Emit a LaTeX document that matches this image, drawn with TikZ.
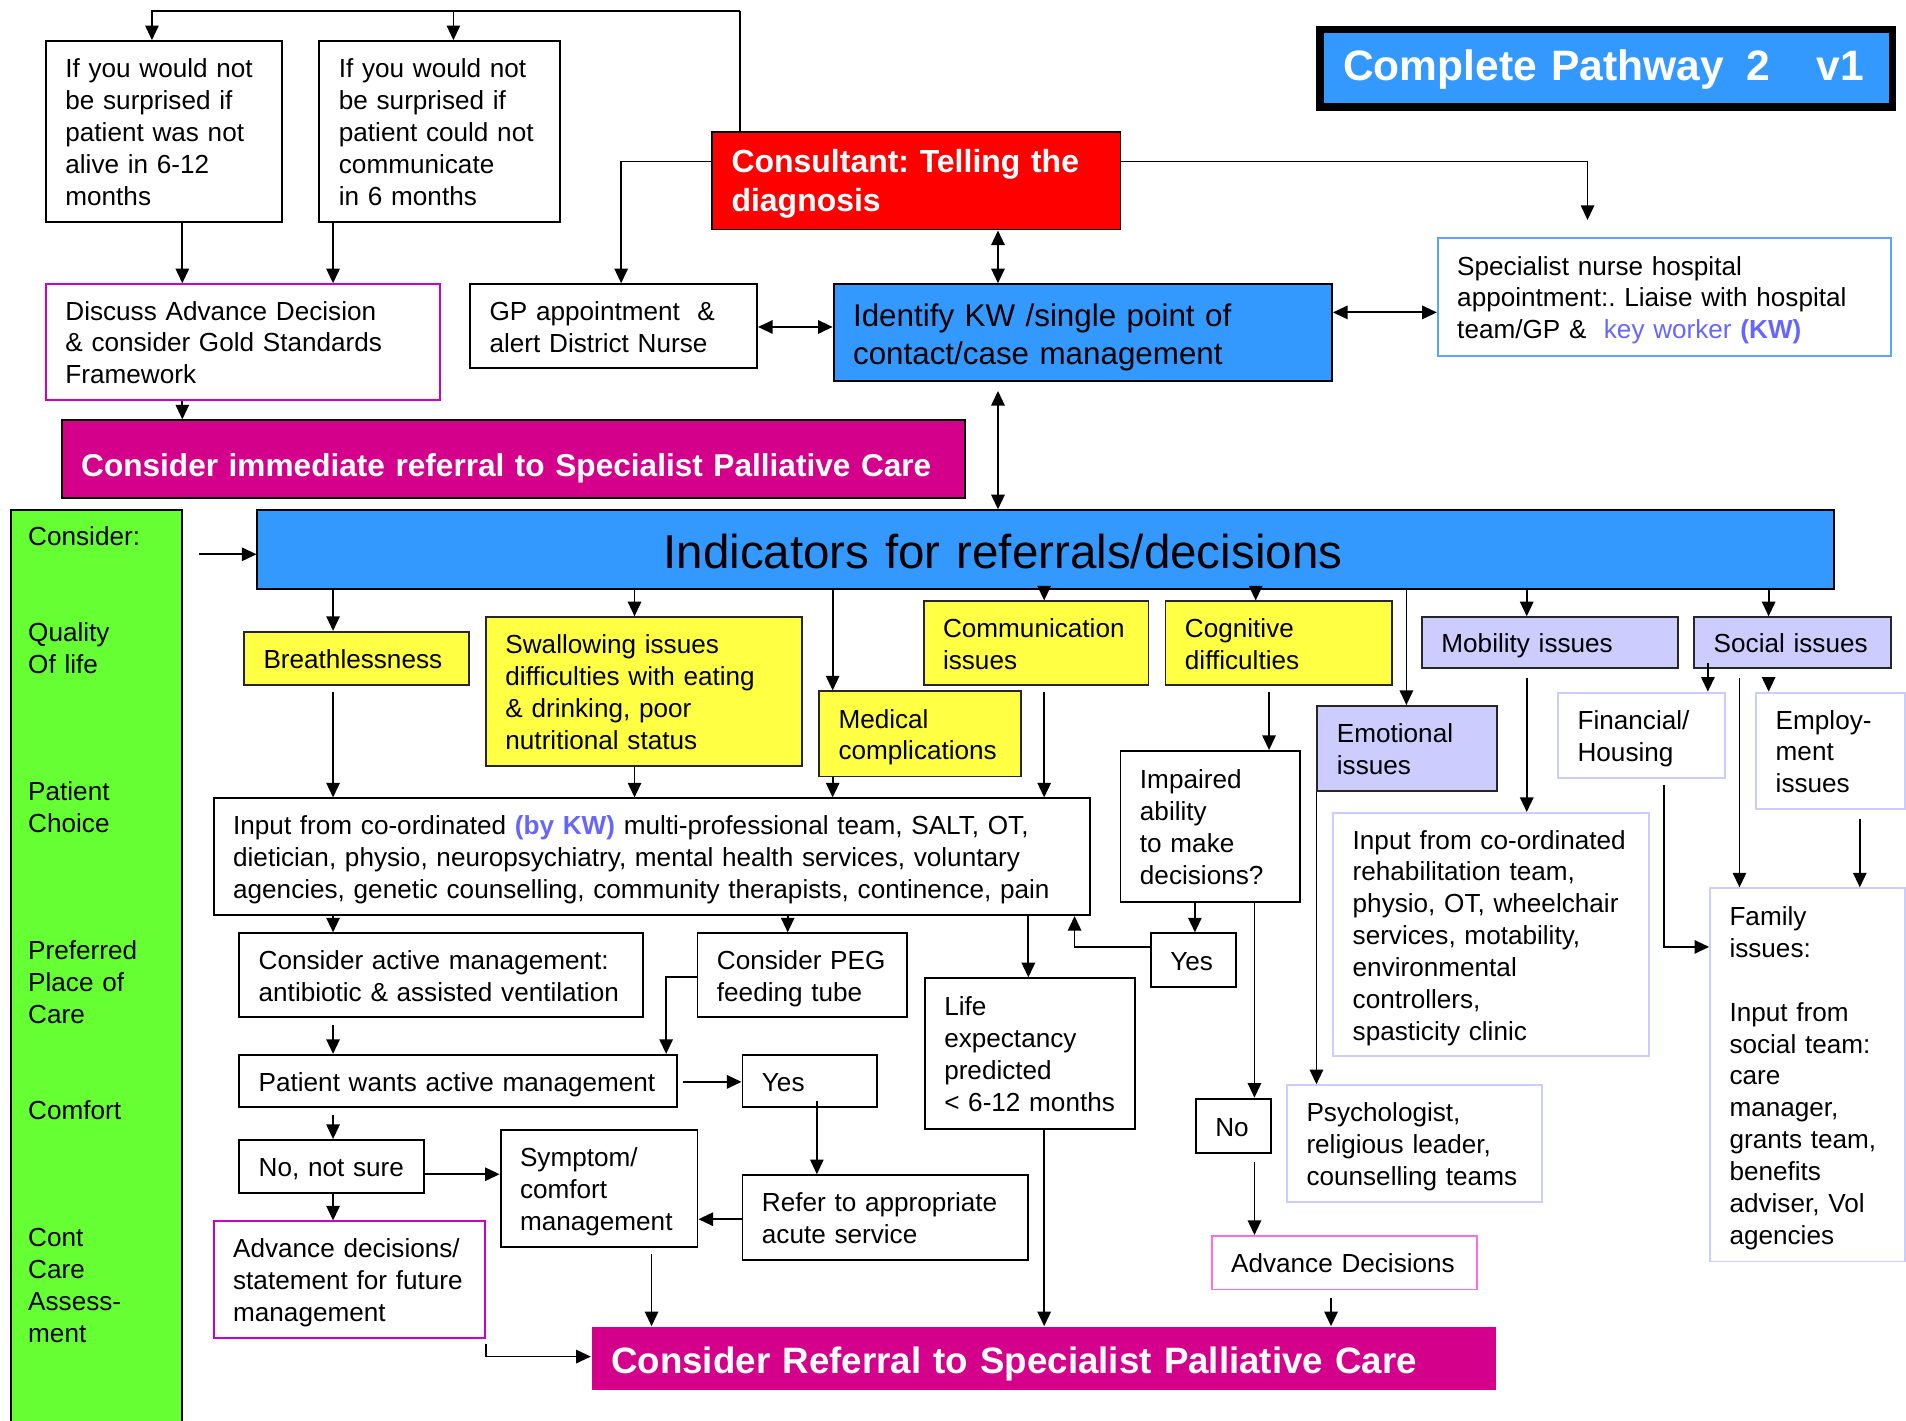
\documentclass[tikz,border=0pt]{standalone}
\usepackage{fontspec}
\setmainfont{Liberation Sans}
\usetikzlibrary{arrows.meta}
\frenchspacing
\definecolor{pblue}{RGB}{51,153,255}
\definecolor{pred}{RGB}{255,0,0}
\definecolor{pmag}{RGB}{212,0,140}
\definecolor{pmagb}{RGB}{204,0,204}
\definecolor{ppink}{RGB}{255,110,225}
\definecolor{pyel}{RGB}{255,255,68}
\definecolor{plav}{RGB}{204,204,255}
\definecolor{pgreen}{RGB}{102,255,51}
\definecolor{pkw}{RGB}{102,102,255}
\definecolor{plblue}{RGB}{90,165,255}
\newcommand\fA{\fontsize{21.5}{26.2}\selectfont}
\newcommand\fB{\fontsize{26.3}{32}\selectfont\bfseries}
\newcommand\fBi{\fontsize{26}{32}\selectfont\bfseries}
\newcommand\fC{\fontsize{25.8}{31}\selectfont}
\newcommand\fD{\fontsize{39.1}{46}\selectfont}
\newcommand\fE{\fontsize{30.2}{37}\selectfont\bfseries}
\newcommand\fT{\fontsize{35}{42}\selectfont\bfseries}
\newdimen\tsh
\tikzset{
  ts/.code={\global\tsh=#1},
  bx/.style={anchor=north west, align=left, inner xsep=16pt, inner ysep=0pt, font=\fA,
    line width=1.6pt, ts=6pt,
    execute at begin node={\rule{0pt}{\dimexpr0.7\baselineskip+\tsh\relax}},
    execute at end node=\strut},
  yel/.style={draw=black!85, fill=pyel},
  lav/.style={draw=black!85, fill=plav},
  lavb/.style={draw=plav},
  arr/.style={line width=1.5pt, -{Triangle[length=12pt,width=11pt]}},
  darr/.style={line width=1.5pt, {Triangle[length=12pt,width=11pt]}-{Triangle[length=12pt,width=11pt]}},
}
\newcommand\mybox[7][]{%
  \pgfmathsetmacro\myW{#5-#3}\pgfmathsetmacro\myH{#6-#4}\pgfmathsetmacro\myT{#5-#3-32}%
  \node[bx,minimum width=\myW pt,minimum height=\myH pt,text width=\myT pt,#1] (#2) at (#3,#4) {#7};}
\begin{document}
\begin{tikzpicture}[x=1pt,y=-1pt]
\useasboundingbox (0,0) rectangle (1568,1169);
% ---- top area
\mybox[draw]{a}{37}{33}{231}{182}{If you would not\\be surprised if\\patient was not\\alive in 6-12\\months}
\mybox[draw]{b}{262}{33}{460}{182}{If you would not\\be surprised if\\patient could not\\communicate\\in 6 months}
\mybox[draw, fill=pred, text=white, font=\fB]{cons}{585}{108}{921}{188}{Consultant: Telling the\\diagnosis}
\mybox[draw, line width=6pt, fill=pblue, text=white, font=\fT, inner xsep=19pt, text width=433pt, ts=4pt]{title}{1083}{21}{1554}{85}{\mbox{Complete Pathway\hspace{19pt}2\hspace{38pt}v1}}
\mybox[draw=pmagb]{disc}{37}{233}{361}{328}{Discuss Advance Decision\\\& consider Gold Standards\\Framework}
\mybox[draw]{gp}{386}{233}{622}{302}{GP appointment\ \ \&\\alert District Nurse}
\mybox[draw, fill=pblue, font=\fC, ts=8pt]{kw}{685}{233}{1095}{313}{Identify KW /single point of\\contact/case management}
\mybox[draw=plblue]{spec}{1182}{195}{1555}{292}{Specialist nurse hospital\\appointment:. Liaise with hospital\\team/GP \&\ \ \textcolor{pkw}{key worker \textbf{(KW)}}}
\mybox[draw, fill=pmag, text=white, font=\fBi, ts=16pt]{imm}{50}{345}{793}{409}{Consider immediate referral to Specialist Palliative Care}
% ---- left column
\mybox[draw, fill=pgreen]{green}{8}{419}{149}{1185}{}
\node[anchor=north west, inner sep=0pt, align=left, text width=120pt, font=\fA, execute at begin node=\strut] (gtext) at (23,430.5)
  {Consider:\\\mbox{}\\\mbox{}\\Quality\\Of life\\\mbox{}\\\mbox{}\\\mbox{}\\Patient\\Choice\\\mbox{}\\\mbox{}\\\mbox{}\\Preferred\\Place of\\Care\\\mbox{}\\\mbox{}\\Comfort\\\mbox{}\\\mbox{}\\\mbox{}\\Cont\\Care\\Assess-\\ment};
% ---- indicators
\mybox[draw, fill=pblue, font=\fD, inner xsep=334pt, text width=629pt, ts=12pt]{ind}{211}{419}{1508}{484}{Indicators for referrals/decisions}
\mybox[yel]{breath}{200}{519}{385}{563}{Breathlessness}
\mybox[yel]{swal}{399}{507}{659}{629}{Swallowing issues\\difficulties with eating\\\& drinking, poor\\nutritional status}
\mybox[yel]{med}{673}{568}{839}{638}{Medical\\complications}
\mybox[yel]{comm}{759}{494}{944}{563}{Communication\\issues}
\mybox[yel]{cog}{958}{494}{1144}{563}{Cognitive\\difficulties}
\mybox[lav]{mob}{1169}{507}{1380}{549}{Mobility issues}
\mybox[lav]{soc}{1393}{507}{1555}{549}{Social issues}
\mybox[lav]{emo}{1083}{580}{1231}{650}{Emotional\\issues}
\mybox[draw]{inp}{175}{656}{896}{752}{Input from co-ordinated \textcolor{pkw}{\textbf{(by KW)}} multi-professional team, SALT, OT,\\dietician, physio, neuropsychiatry, mental health services, voluntary\\agencies, genetic counselling, community therapists, continence, pain}
\mybox[draw]{imp}{921}{617}{1069}{741}{Impaired\\ability\\to make\\decisions?}
\mybox[draw]{yes2}{946}{767}{1016}{811}{Yes}
\mybox[draw]{no2}{983}{903}{1045}{948}{No}
\mybox[draw=ppink]{ad2}{996}{1016}{1214}{1060}{Advance Decisions}
\mybox[lavb]{psy}{1058}{892}{1268}{988}{Psychologist,\\religious leader,\\counselling teams}
\mybox[lavb]{rehab}{1096}{668}{1356}{868}{Input from co-ordinated\\rehabilitation team,\\physio, OT, wheelchair\\services, motability,\\environmental\\controllers,\\spasticity clinic}
\mybox[lavb]{fin}{1281}{569}{1418}{639}{Financial/\\Housing}
\mybox[lavb]{emp}{1444}{569}{1566}{665}{Employ-\\ment\\issues}
\mybox[lavb]{fam}{1406}{730}{1566}{1037}{Family\\issues:\\\mbox{}\\Input from\\social team:\\care\\manager,\\grants team,\\benefits\\adviser, Vol\\agencies}
% ---- lower left
\mybox[draw]{act}{196}{767}{528}{836}{Consider active management:\\antibiotic \& assisted ventilation}
\mybox[draw]{peg}{573}{767}{745}{836}{Consider PEG\\feeding tube}
\mybox[draw]{pw}{196}{867}{556}{910}{Patient wants active management}
\mybox[draw]{yes1}{610}{867}{721}{910}{Yes}
\mybox[draw]{life}{760}{804}{933}{928}{Life\\expectancy\\predicted\\< 6-12 months}
\mybox[draw]{nns}{196}{937}{348}{981}{No, not sure}
\mybox[draw]{sym}{411}{929}{573}{1025}{Symptom/\\comfort\\management}
\mybox[draw]{ref}{610}{966}{845}{1036}{Refer to appropriate\\acute service}
\mybox[draw=pmagb]{ad1}{175}{1004}{398}{1100}{Advance decisions/\\statement for future\\management}
\mybox[fill=pmag, text=white, font=\fE, ts=10pt]{crf}{486}{1091}{1230}{1143}{Consider Referral to Specialist Palliative Care}
% ---- connectors
\coordinate (tl) at (609,9);
\draw[line width=1.3pt] (cons.north -| tl) -- (tl);
\draw[arr, line width=1.3pt] (tl) -| (a.north -| 125,0);
\draw[arr, line width=1.3pt] (tl -| 373,0) -- (b.north -| 373,0);
\draw[arr] (a.south -| 150,0) -- (disc.north -| 150,0);
\draw[arr] (b.south -| 274,0) -- (disc.north -| 274,0);
\draw[arr] (disc.south -| 150,0) -- (imm.north -| 150,0);
\draw[arr, line width=1.3pt] (cons.west |- 0,133) -| (gp.north -| 511,0);
\draw[arr, line width=1.3pt, shorten >=14pt] (cons.east |- 0,133) -| (spec.north -| 1306,0);
\draw[darr] (cons.south -| 821,0) -- (kw.north -| 821,0);
\draw[darr] (gp.east |- 0,269) -- (kw.west |- 0,269);
\draw[darr] (kw.east |- 0,257) -- (spec.west |- 0,257);
\draw[darr, shorten <=7pt] (kw.south -| 821,0) -- (ind.north -| 821,0);
\draw[arr, shorten <=13pt] (green.east |- 0,456) -- (ind.west |- 0,456);
\foreach \n/\x in {breath/274, swal/522, med/685, comm/859, cog/1033, emo/1157, mob/1256, soc/1455}
  \draw[arr] (ind.south -| \x,0) -- (\n.north -| \x,0);
\draw[arr, shorten <=5pt] (breath.south -| 274,0) -- (inp.north -| 274,0);
\draw[arr] (swal.south -| 522,0) -- (inp.north -| 522,0);
\draw[arr] (med.south -| 685,0) -- (inp.north -| 685,0);
\draw[arr, shorten <=5pt] (comm.south -| 859,0) -- (inp.north -| 859,0);
\draw[arr, shorten <=5pt] (cog.south -| 1044,0) -- (imp.north -| 1044,0);
\draw[arr] (imp.south -| 983,0) -- (yes2.north -| 983,0);
\draw[arr] (imp.south -| 1032,0) -- (no2.north -| 1032,0);
\draw[arr] (yes2.west |- 0,779) -| (inp.south -| 884,0);
\draw[arr, shorten <=6pt] (no2.south -| 1032,0) -- (ad2.north -| 1032,0);
\draw[arr, shorten <=6pt] (ad2.south -| 1095,0) -- (crf.north -| 1095,0);
\draw[arr] (emo.south west) -- (psy.north -| emo.west);
\draw[arr, shorten <=7pt] (mob.south -| 1256,0) -- (rehab.north -| 1256,0);
\draw[arr, shorten <=-5pt] (soc.south -| 1405,0) -- (fin.north -| 1405,0);
\draw[arr, shorten <=7pt] (soc.south -| 1455,0) -- (emp.north -| 1455,0);
\draw[arr, shorten <=7pt] (soc.south -| 1431,0) -- (fam.north -| 1431,0);
\draw[arr, shorten <=5pt] (fin.south -| 1369,0) |- (fam.west |- 0,779);
\draw[arr, shorten <=7pt] (emp.south -| 1530,0) -- (fam.north -| 1530,0);
\draw[arr] (inp.south -| 274,0) -- (act.north -| 274,0);
\draw[arr] (inp.south -| 648,0) -- (peg.north -| 648,0);
\draw[arr] (inp.south -| 846,0) -- (life.north -| 846,0);
\draw[arr] (peg.west |- 0,804) -| (pw.north -| 548,0);
\draw[arr, shorten <=6pt] (act.south -| 274,0) -- (pw.north -| 274,0);
\draw[arr, shorten <=4pt] (pw.east |- 0,890) -- (yes1.west |- 0,890);
\draw[arr, line width=1.2pt, shorten <=-6pt] (yes1.south -| 672,0) -- (ref.north -| 672,0);
\draw[arr] (ref.west |- 0,1003) -- (sym.east |- 0,1003);
\draw[arr, shorten <=6pt] (pw.south -| 274,0) -- (nns.north -| 274,0);
\draw[arr] (nns.east |- 0,966) -- (sym.west |- 0,966);
\draw[arr] (nns.south -| 274,0) -- (ad1.north -| 274,0);
\draw[arr, shorten <=5pt] (sym.south -| 536,0) -- (crf.north -| 536,0);
\draw[arr] (life.south -| 859,0) -- (crf.north -| 859,0);
\draw[arr, shorten <=4pt] (ad1.south east) |- (crf.west |- 0,1116);
\end{tikzpicture}
\end{document}
